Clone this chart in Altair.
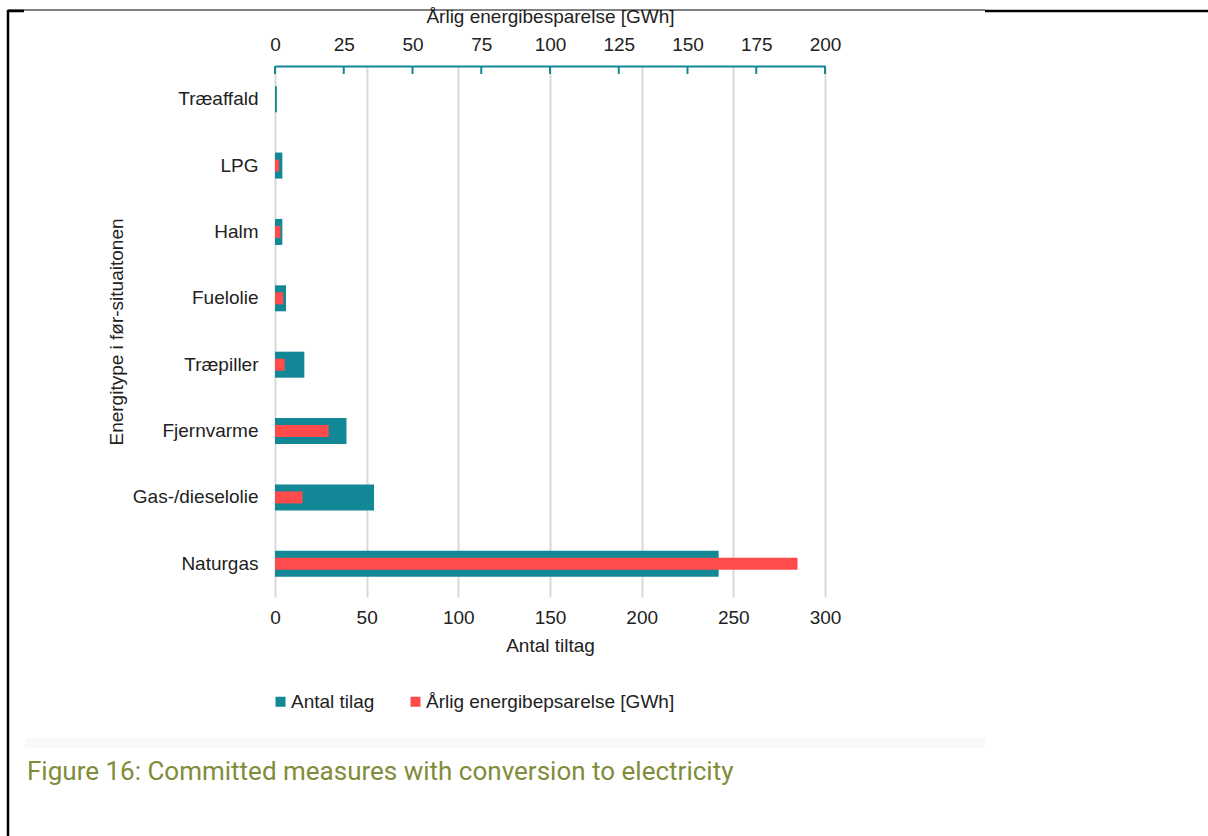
import altair as alt
import pandas as pd

# Heating source before conversion, top to bottom
categories = ["Træaffald", "LPG", "Halm", "Fuelolie", "Træpiller",
              "Fjernvarme", "Gas-/dieselolie", "Naturgas"]
# Number of measures (bottom axis)
antal_tiltag = [1, 4, 4, 6, 16, 39, 54, 242]
# Annual energy savings in GWh (top axis)
energibesparelse_gwh = [0, 1.5, 2, 3, 3.5, 19.5, 10, 190]

bottom_ticks = [0, 50, 100, 150, 200, 250, 300]
top_ticks = [0, 25, 50, 75, 100, 125, 150, 175, 200]
series_names = ["Antal tilag", "Årlig energibepsarelse [GWh]"]

TEAL = "#128896"
RED = "#ff4b4b"
TXT = "#222222"
FONT = "Liberation Sans, Arial, sans-serif"

count_df = pd.DataFrame({"kategori": categories, "antal": antal_tiltag,
                         "serie": series_names[0]})
gwh_df = pd.DataFrame({"kategori": categories, "gwh": energibesparelse_gwh,
                       "serie": series_names[1]})
tick_df = pd.DataFrame({"t": top_ticks})

y_enc = alt.Y(
    "kategori:N", sort=categories,
    scale=alt.Scale(paddingInner=0, paddingOuter=0),
    axis=alt.Axis(title="Energitype i før-situaitonen", domain=False, ticks=False,
                  labelFontSize=19, labelFont=FONT, labelColor=TXT, labelPadding=17,
                  titleFontSize=19, titleFont=FONT, titleColor=TXT,
                  titleFontWeight="normal", titlePadding=6),
)

color_enc = alt.Color(
    "serie:N",
    scale=alt.Scale(domain=series_names, range=[TEAL, RED]),
    legend=alt.Legend(orient="none", legendX=-4, legendY=626, direction="horizontal",
                      title=None, symbolType="square", symbolSize=100,
                      symbolStrokeWidth=0, labelFontSize=19, labelFont=FONT,
                      labelColor=TXT, labelOffset=1, labelLimit=0, columnPadding=31),
)

count_bars = alt.Chart(count_df).mark_bar(size=26).encode(
    x=alt.X("antal:Q", scale=alt.Scale(domain=[0, 300], nice=False),
            axis=alt.Axis(orient="bottom", values=bottom_ticks, title="Antal tiltag",
                          grid=True, gridColor="#d9d9d9", gridWidth=2,
                          domain=False, ticks=False, labelFlush=False,
                          labelFontSize=19, labelFont=FONT, labelColor=TXT,
                          labelPadding=11, titleFontSize=19, titleFont=FONT,
                          titleColor=TXT, titleFontWeight="normal", titlePadding=9)),
    y=y_enc,
    color=color_enc,
)

gwh_bars = alt.Chart(gwh_df).mark_bar(size=12).encode(
    x=alt.X("gwh:Q", scale=alt.Scale(domain=[0, 200], nice=False),
            axis=alt.Axis(orient="top", values=top_ticks,
                          title="Årlig energibesparelse [GWh]",
                          grid=False, domain=True, domainColor=TEAL, domainWidth=2,
                          ticks=False, labelFlush=False, labelFontSize=19,
                          labelFont=FONT, labelColor=TXT, labelPadding=12,
                          titleFontSize=19, titleFont=FONT, titleColor=TXT,
                          titleFontWeight="normal", titlePadding=9)),
    y=y_enc,
    color=color_enc,
)

# inward tick marks of the top axis
top_tick_marks = alt.Chart(tick_df).mark_rule(color=TEAL, strokeWidth=2).encode(
    x=alt.X("t:Q", scale=alt.Scale(domain=[0, 200], nice=False), axis=None),
    y=alt.value(0),
    y2=alt.value(8),
)

one = pd.DataFrame({"k": [0]})

caption = alt.Chart(one).mark_text(
    align="left", baseline="alphabetic", fontSize=26, font="Roboto",
    color="#7f8c3a",
).encode(x=alt.value(-248), y=alt.value(714),
         text=alt.value("Figure 16: Committed measures with conversion to electricity"))

faint_band = alt.Chart(one).mark_rect(color="#f9f9f9").encode(
    x=alt.value(-250), x2=alt.value(710), y=alt.value(672), y2=alt.value(682))

frame_left = alt.Chart(one).mark_rule(color="#000000", strokeWidth=2.5).encode(
    x=alt.value(-267), y=alt.value(-56), y2=alt.value(775))
frame_top_thin = alt.Chart(one).mark_rule(color="#000000", strokeWidth=1).encode(
    x=alt.value(-267), x2=alt.value(710), y=alt.value(-56))
frame_top_left = alt.Chart(one).mark_rule(color="#000000", strokeWidth=2.5).encode(
    x=alt.value(-268), x2=alt.value(-251), y=alt.value(-55))
frame_top_right = alt.Chart(one).mark_rule(color="#000000", strokeWidth=2.5).encode(
    x=alt.value(710), x2=alt.value(940), y=alt.value(-55))

chart = alt.layer(
    count_bars, gwh_bars, top_tick_marks,
    faint_band, caption, frame_left, frame_top_thin, frame_top_left, frame_top_right,
).resolve_scale(x="independent").properties(
    width=550, height=531,
    autosize=alt.AutoSizeParams(type="none"),
    padding={"left": 275, "top": 66, "right": 383, "bottom": 239},
    background="white",
).configure_view(stroke=None)

chart.save("out.html", embed_options={"renderer": "svg", "actions": False})
